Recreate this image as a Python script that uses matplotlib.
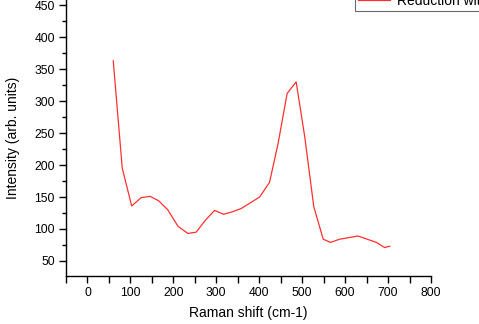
import matplotlib
matplotlib.use("Agg")
import matplotlib.pyplot as plt
from matplotlib.ticker import MultipleLocator

plt.rcParams['font.family'] = ['Liberation Sans', 'DejaVu Sans']

raman_shift = [60, 81, 103, 125, 146, 166, 187, 211, 234, 253, 275, 296, 317, 338,
               358, 401, 424, 444, 465, 486, 506, 527, 549, 566, 587, 630, 673, 692, 704]
intensity = [363, 195, 136, 149, 151, 144, 130, 104, 93, 95, 114, 129, 123, 127,
             132, 150, 173, 234, 312, 330, 244, 135, 84, 79, 84, 89, 79, 71, 73]
series_label = "Reduction with"

W, H = 479, 324
fig = plt.figure(figsize=(W / 100, H / 100), dpi=100)
ax = fig.add_axes([66 / W, (H - 276) / H, (431 - 66) / W, 276 / H])

ax.plot(raman_shift, intensity, color='#ff3030', linewidth=0.9, label=series_label)

ax.set_xlim(-50, 800)
ax.set_ylim(26.5, 458)
ax.xaxis.set_major_locator(MultipleLocator(100))
ax.xaxis.set_minor_locator(MultipleLocator(50))
ax.yaxis.set_minor_locator(MultipleLocator(25))
ax.set_yticks([50, 100, 150, 200, 250, 300, 350, 400, 450])

for s in ['top', 'right']:
    ax.spines[s].set_visible(False)
for s in ['left', 'bottom']:
    ax.spines[s].set_linewidth(1.0)

ax.tick_params(axis='both', which='major', direction='out', length=5, width=1,
               labelsize=8.7, colors='black', pad=3)
ax.tick_params(axis='x', which='minor', direction='out', length=5, width=1)
ax.tick_params(axis='y', which='minor', direction='out', length=3, width=1)

ax.set_xlabel("Raman shift (cm-1)", fontsize=10, labelpad=5)
ax.set_ylabel("Intensity (arb. units)", fontsize=10, labelpad=10)

leg = fig.legend(loc='lower left', bbox_to_anchor=(355 / W, (H - 11) / H),
                 frameon=True, fancybox=False, edgecolor='#444444', fontsize=10,
                 handlelength=2.3, borderaxespad=0, borderpad=0.25, handletextpad=0.45)
leg.get_frame().set_linewidth(0.8)
leg._legend_box.sep = 0
leg.get_frame().set_x(leg.get_frame().get_x())

fig.savefig("out.png", dpi=100)
